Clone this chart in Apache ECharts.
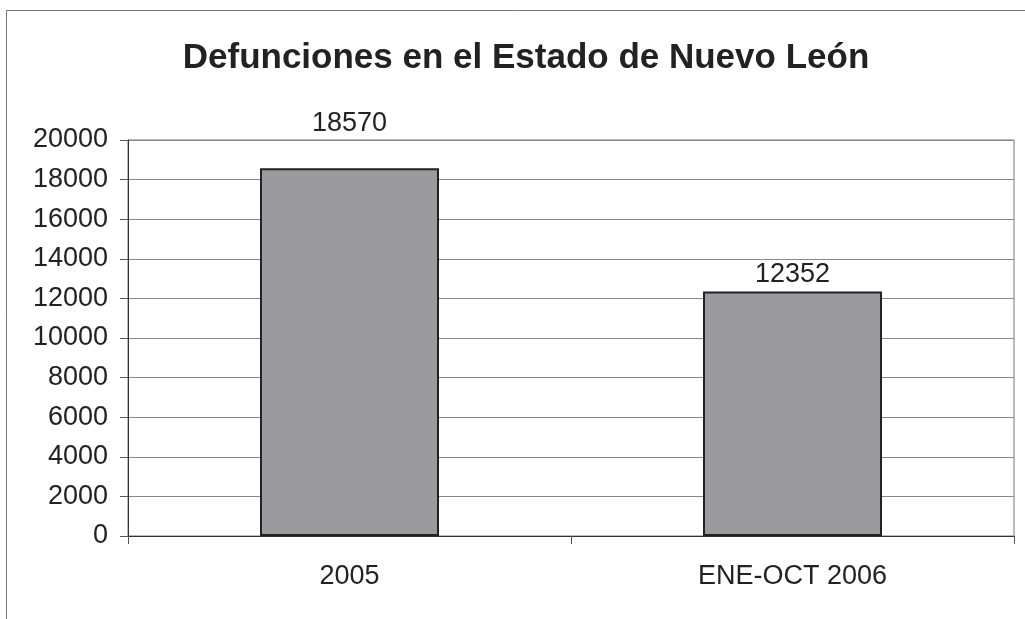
<!DOCTYPE html>
<html>
<head>
<meta charset="utf-8">
<script src="https://cdn.jsdelivr.net/npm/echarts@6/dist/echarts.min.js"></script>
<style>
html, body { margin: 0; padding: 0; background: #fff; }
#main { width: 1025px; height: 619px; }
</style>
</head>
<body>
<div id="main"></div>
<script>
var categories = ['2005', 'ENE-OCT 2006'];
var defunciones = [18570, 12352];
var yTicks = [0, 2000, 4000, 6000, 8000, 10000, 12000, 14000, 16000, 18000, 20000];

var myChart = echarts.init(document.getElementById('main'));
var font = 'Liberation Sans, Arial, sans-serif';

// la etiqueta de 2005 esta desplazada hacia arriba en el original
var barData = defunciones.map(function (v, i) {
	return i === 0 ? { value: v, label: { distance: 31 } } : v;
});

myChart.setOption({
	animation: false,
	backgroundColor: '#fff',
	title: {
		text: 'Defunciones en el Estado de Nuevo León',
		left: 521,
		textAlign: 'center',
		top: 36,
		textStyle: { fontFamily: font, fontSize: 35, fontWeight: 'bold', color: '#222' }
	},
	graphic: [{
		type: 'rect',
		shape: { x: 6.5, y: 10.5, width: 1030, height: 620 },
		style: { fill: 'none', stroke: '#777', lineWidth: 1 },
		silent: true
	}],
	grid: {
		left: 128, right: 11, top: 140, bottom: 83,
		show: true, borderColor: '#777', borderWidth: 1, backgroundColor: '#fff'
	},
	xAxis: {
		type: 'category',
		data: categories,
		axisLine: { lineStyle: { color: '#333', width: 1 } },
		axisTick: { show: true, length: 8, lineStyle: { color: '#555' } },
		axisLabel: { fontFamily: font, fontSize: 27, color: '#222', margin: 27 }
	},
	yAxis: {
		type: 'value',
		min: yTicks[0],
		max: yTicks[yTicks.length - 1],
		interval: 2000,
		axisLine: { show: true, lineStyle: { color: '#333', width: 1 } },
		axisTick: { show: true, length: 8, lineStyle: { color: '#555' } },
		splitLine: { lineStyle: { color: '#888', width: 1 } },
		axisLabel: {
			fontFamily: font, fontSize: 27, color: '#222', margin: 20,
			formatter: function (v) { return String(v); }
		}
	},
	series: [{
		type: 'bar',
		data: barData,
		barWidth: 179,
		itemStyle: { color: '#9b9b9f', borderColor: '#222', borderWidth: 2 },
		label: {
			show: true, position: 'top', distance: 3,
			fontFamily: font, fontSize: 27, color: '#222'
		}
	}]
});
</script>
</body>
</html>
